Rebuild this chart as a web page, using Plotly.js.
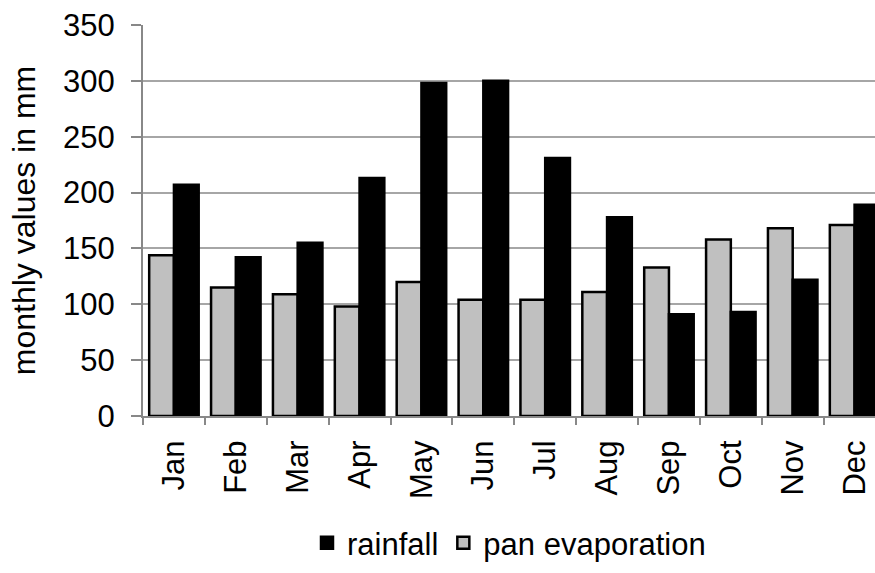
<!DOCTYPE html>
<html>
<head>
<meta charset="utf-8">
<script src="https://cdn.plot.ly/plotly-3.0.1.min.js"></script>
<style>
html,body{margin:0;padding:0;background:#fff;}
#chart{width:875px;height:573px;}
</style>
</head>
<body>
<div id="chart"></div>
<script>
var months = ["Jan","Feb","Mar","Apr","May","Jun","Jul","Aug","Sep","Oct","Nov","Dec"];
var rainfall = [207, 142, 155, 213, 298, 300, 231, 178, 91, 93, 122, 189];
var panEvaporation = [144, 115, 109, 98, 120, 104, 104, 111, 133, 158, 168, 171];
var yTicks = [0, 50, 100, 150, 200, 250, 300, 350];

var FONT = "Liberation Sans, Arial, sans-serif";

var traces = [
  {
    type: "bar",
    name: "pan evaporation",
    x: months,
    y: panEvaporation,
    marker: {color: "#c0c0c0", line: {color: "#000", width: 2.5}},
    hoverinfo: "x+y"
  },
  {
    type: "bar",
    name: "rainfall",
    x: months,
    y: rainfall,
    marker: {color: "#000", line: {color: "#000", width: 2.5}},
    hoverinfo: "x+y"
  }
];

var layout = {
  width: 875,
  height: 573,
  margin: {l: 143, r: 0, t: 25, b: 157, autoexpand: false},
  paper_bgcolor: "#fff",
  plot_bgcolor: "#fff",
  barmode: "group",
  bargap: 0.2,
  bargroupgap: 0,
  font: {family: FONT, color: "#000", size: 31},
  xaxis: {
    type: "category",
    categoryorder: "array",
    categoryarray: months,
    range: [-0.5, 11.33],
    tickangle: -90,
    tickson: "boundaries",
    ticks: "outside",
    ticklen: 7,
    tickwidth: 2,
    tickcolor: "#888",
    ticklabelstandoff: 10,
    showline: true,
    linecolor: "#888",
    linewidth: 2,
    showgrid: false,
    zeroline: false,
    automargin: false,
    tickfont: {family: FONT, size: 31, color: "#000"},
    fixedrange: true
  },
  yaxis: {
    range: [0, 350],
    tickmode: "array",
    tickvals: yTicks,
    ticktext: yTicks.map(String),
    ticks: "outside",
    ticklen: 10,
    tickwidth: 2,
    tickcolor: "#888",
    ticklabelstandoff: 10,
    showline: true,
    linecolor: "#888",
    linewidth: 2,
    showgrid: true,
    gridcolor: "#a6a6a6",
    gridwidth: 2,
    zeroline: false,
    automargin: false,
    tickfont: {family: FONT, size: 31, color: "#000"},
    title: {text: "monthly values in mm", font: {family: FONT, size: 32, color: "#000"}, standoff: 18},
    fixedrange: true
  },
  showlegend: true,
  legend: {
    orientation: "h",
    traceorder: "reversed",
    x: 0.5,
    xanchor: "center",
    yref: "container",
    y: 0.005,
    yanchor: "bottom",
    font: {family: FONT, size: 31, color: "#000"},
    itemwidth: 30,
    tracegroupgap: 0,
    bgcolor: "rgba(0,0,0,0)"
  }
};

Plotly.newPlot("chart", traces, layout, {displayModeBar: false, staticPlot: true});
</script>
</body>
</html>
